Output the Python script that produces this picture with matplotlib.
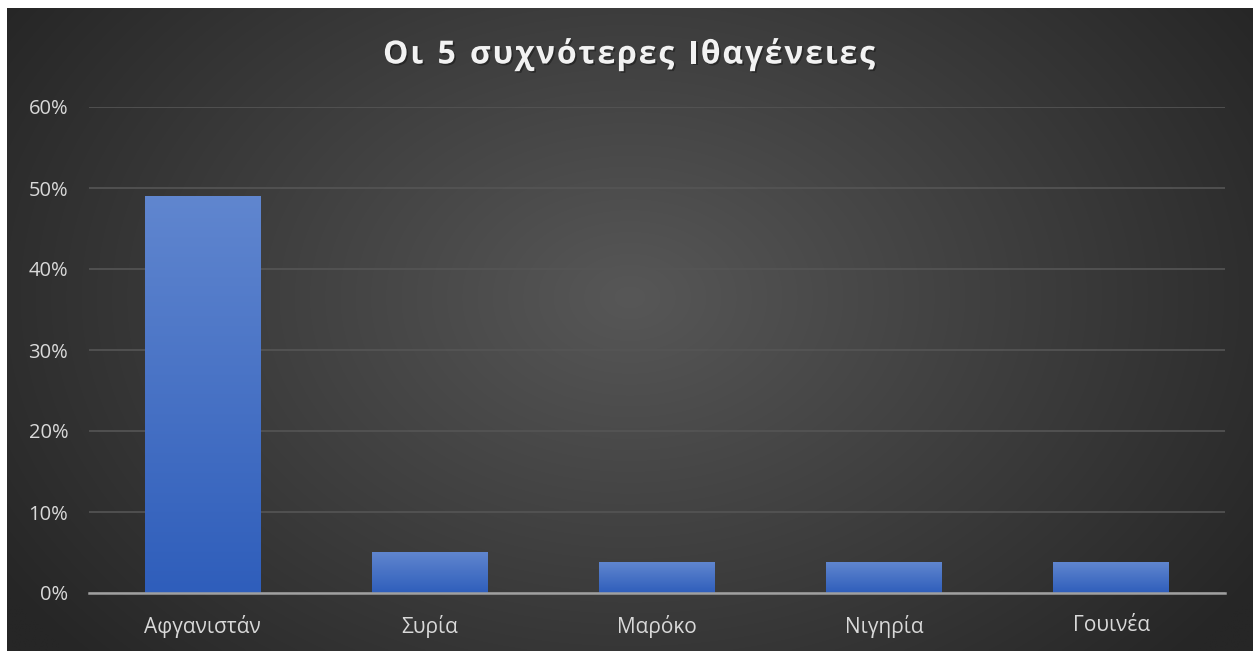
import numpy as np
import matplotlib
matplotlib.use("Agg")
import matplotlib.pyplot as plt
import matplotlib.patheffects as pe
from matplotlib.ticker import PercentFormatter

# data
countries = ["Αφγανιστάν", "Συρία", "Μαρόκο", "Νιγηρία", "Γουινέα"]
shares = [0.49, 0.05, 0.038, 0.038, 0.038]
title = "Οι 5 συχνότερες Ιθαγένειες"
yticks = [0, 0.1, 0.2, 0.3, 0.4, 0.5, 0.6]

plt.rcParams['font.family'] = ['Open Sans', 'DejaVu Sans']

fig = plt.figure(figsize=(12.53, 6.51), dpi=100)
fig.patch.set_facecolor("white")

# radial dark background panel
bg = fig.add_axes([7/1253, 0, 1 - 7/1253, 1 - 8/651])
bg.set_axis_off()
yy, xx = np.mgrid[0:1:300j, 0:1:600j]
r = np.sqrt(((xx - 0.5) * 1.25) ** 2 + ((yy - 0.45) * 0.9) ** 2)
r = np.clip(r / 0.75, 0, 1)
c0 = np.array([0x57, 0x57, 0x57]) / 255
c1 = np.array([0x26, 0x26, 0x26]) / 255
img = c0[None, None, :] * (1 - r[..., None]) + c1[None, None, :] * r[..., None]
bg.imshow(img, aspect="auto", extent=[0, 1, 0, 1], interpolation="bilinear")

ax = fig.add_axes([89/1253, 58/651, (1225-89)/1253, (593-107)/651])
ax.set_facecolor("none")
x = np.arange(len(countries))
bars = ax.bar(x, shares, width=0.51, color="#3a68c4", zorder=3,
              path_effects=[pe.SimpleLineShadow(offset=(2, -2), shadow_color="black", alpha=0.35, linewidth=0),
                            pe.Normal()])

# vertical gradient on each bar
grad = np.linspace(0, 1, 100)[:, None]
top = np.array([0x60, 0x86, 0xcf]) / 255
bot = np.array([0x2f, 0x5e, 0xbb]) / 255
gimg = top[None, None, :] * (1 - grad[..., None]) + bot[None, None, :] * grad[..., None]
for b in bars:
    x0, w, h = b.get_x(), b.get_width(), b.get_height()
    ax.imshow(gimg, extent=[x0, x0 + w, 0, h], aspect="auto", zorder=4,
              interpolation="bilinear")

ax.set_xlim(-0.5, len(countries) - 0.5)
ax.set_ylim(0, 0.6)
ax.set_yticks(yticks)
ax.yaxis.set_major_formatter(PercentFormatter(1.0, decimals=0))
ax.set_xticks(x)
ax.set_xticklabels(countries, fontsize=15)
ax.tick_params(axis="both", length=0, labelcolor="#d9d9d9")
ax.tick_params(axis="y", labelsize=14.5, pad=15)
ax.tick_params(axis="x", pad=16)
ax.grid(axis="y", color="#555555", linewidth=1.2, zorder=0)
for s in ["top", "right", "left"]:
    ax.spines[s].set_visible(False)
ax.spines["bottom"].set_color("#a0a0a0")
ax.spines["bottom"].set_linewidth(1.8)
ax.spines["bottom"].set_zorder(5)
ax.set_axisbelow(True)

# title with letter spacing: place each character in turn
renderer = fig.canvas.get_renderer()
tkw = dict(fontsize=23, fontweight="bold", color="#f2f2f2", va="center", ha="left",
           path_effects=[pe.withSimplePatchShadow(offset=(1.2, -1.2), shadow_rgbFace="black", alpha=0.35)])
spacing = 1.8  # px between characters
widths = []
for ch in title:
    t = fig.text(0, 0, ch if ch != " " else "a", **tkw)
    widths.append(t.get_window_extent(renderer).width * (0.55 if ch == " " else 1.0))
    t.remove()
total = sum(widths) + spacing * (len(title) - 1)
xpos = 629 - total / 2
ypos = 1 - 55/651
for ch, w in zip(title, widths):
    if ch != " ":
        fig.text(xpos / 1253, ypos, ch, **tkw)
    xpos += w + spacing

fig.savefig("out.png", dpi=100)
